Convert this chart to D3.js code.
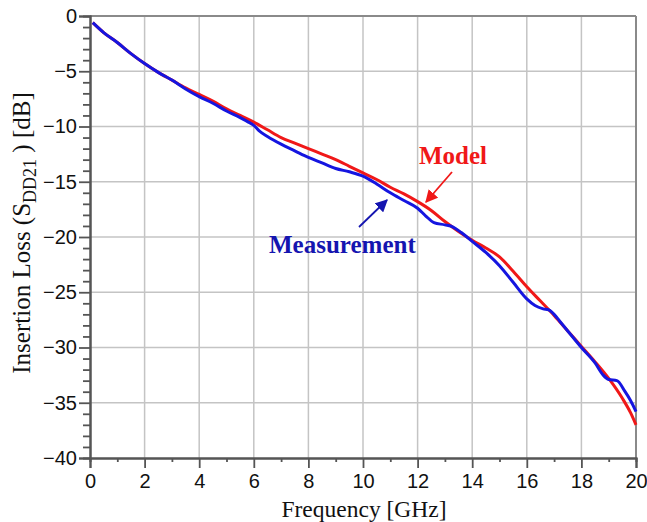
<!DOCTYPE html>
<html><head><meta charset="utf-8">
<script src="https://cdn.jsdelivr.net/npm/d3@7"></script>
<style>body{margin:0;background:#fff}</style>
</head><body>
<svg id="c" width="647" height="522"></svg>
<script>
const xTicks = [0,2,4,6,8,10,12,14,16,18,20];
const yTicks = [0,-5,-10,-15,-20,-25,-30,-35,-40];
const modelFreq = [0.1,0.5,1,1.5,2,2.5,3,3.5,4,4.5,5,5.5,6,6.5,7,7.5,8,8.5,9,9.5,10,10.5,11,11.5,12,12.5,13,13.5,14,14.5,15,15.5,16,16.5,17,17.5,18,18.5,19,19.5,19.8,20];
const modelDb = [-0.6,-1.5,-2.4,-3.4,-4.3,-5.1,-5.8,-6.5,-7.1,-7.7,-8.4,-9.0,-9.6,-10.3,-11.0,-11.5,-12.0,-12.5,-13.0,-13.6,-14.2,-14.8,-15.5,-16.1,-16.8,-17.6,-18.6,-19.5,-20.3,-21.0,-21.8,-23.1,-24.5,-25.8,-27.1,-28.5,-29.9,-31.3,-32.8,-34.6,-35.9,-37.0];
const measFreq = [0.1,0.5,1,1.5,2,2.5,3,3.5,4,4.5,5,5.5,5.8,6,6.2,6.5,7,7.5,8,8.5,9,9.5,10,10.5,11,11.5,12,12.3,12.6,13,13.3,13.6,14,14.5,15,15.5,16,16.3,16.6,16.8,17,17.2,17.5,18,18.5,18.8,19,19.3,19.6,19.8,20];
const measDb = [-0.6,-1.5,-2.4,-3.4,-4.3,-5.1,-5.8,-6.6,-7.3,-7.9,-8.6,-9.2,-9.6,-9.9,-10.4,-10.9,-11.6,-12.2,-12.8,-13.3,-13.8,-14.1,-14.5,-15.2,-16.0,-16.7,-17.4,-18.1,-18.7,-18.9,-19.1,-19.6,-20.4,-21.4,-22.6,-24.1,-25.6,-26.2,-26.5,-26.6,-27.0,-27.6,-28.5,-30.0,-31.4,-32.5,-32.9,-33.0,-34.0,-34.8,-35.8];

const svg = d3.select("#c");
const L=90,R=636,T=16,B=458;
const x = d3.scaleLinear().domain([0,20]).range([L,R]);
const y = d3.scaleLinear().domain([-40,0]).range([B,T]);

// grid
svg.append("g").selectAll("line").data(xTicks.slice(1,-1)).join("line")
  .attr("x1",d=>x(d)).attr("x2",d=>x(d)).attr("y1",T).attr("y2",B)
  .attr("stroke","#c4c4c4").attr("stroke-width",1.5);
svg.append("g").selectAll("line").data(yTicks.slice(1,-1)).join("line")
  .attr("y1",d=>y(d)).attr("y2",d=>y(d)).attr("x1",L).attr("x2",R)
  .attr("stroke","#c4c4c4").attr("stroke-width",1.5);
// frame top/right
svg.append("line").attr("x1",L).attr("x2",R).attr("y1",T).attr("y2",T).attr("stroke","#8a8a8a").attr("stroke-width",2);
svg.append("line").attr("x1",R).attr("x2",R).attr("y1",T).attr("y2",B).attr("stroke","#8a8a8a").attr("stroke-width",2);

// axes
const xAxis = d3.axisBottom(x).tickValues(xTicks).tickSize(10).tickPadding(6).tickFormat(d3.format("d"));
const xMinor = d3.axisBottom(x).tickValues(d3.range(1,20,2)).tickSize(4).tickFormat("");
const yAxis = d3.axisLeft(y).tickValues(yTicks).tickSize(11).tickPadding(2).tickFormat(d3.format("d"));
const yMinor = d3.axisLeft(y).tickValues(d3.range(-39,0,1).filter(v=>v%5!==0)).tickSize(7).tickFormat("");
function style(g){
  g.selectAll("path,line").attr("stroke","#555").attr("stroke-width",1.8);
  g.selectAll("text").attr("fill","#111").style("font-family","'Liberation Sans',Arial,sans-serif").style("font-size","20px");
}
svg.append("g").attr("transform",`translate(0,${B})`).call(xMinor).call(style);
svg.append("g").attr("transform",`translate(0,${B})`).call(xAxis).call(style);
svg.append("g").attr("transform",`translate(${L},0)`).call(yMinor).call(style);
svg.append("g").attr("transform",`translate(${L},0)`).call(yAxis).call(style);
svg.selectAll(".domain").attr("stroke","#555").attr("stroke-width",2);

// lines
const line = d3.line().x(d=>x(d[0])).y(d=>y(d[1])).curve(d3.curveMonotoneX);
svg.append("path").datum(modelFreq.map((f,i)=>[f,modelDb[i]]))
  .attr("d",line).attr("fill","none").attr("stroke","#f01818").attr("stroke-width",3);
svg.append("path").datum(measFreq.map((f,i)=>[f,measDb[i]]))
  .attr("d",line).attr("fill","none").attr("stroke","#1515e0").attr("stroke-width",3);

// titles
const serif = "'Liberation Serif','Times New Roman',serif";
svg.append("text").attr("x",(L+R)/2+1).attr("y",517).attr("text-anchor","middle")
  .style("font-family",serif).style("font-size","23.5px").attr("fill","#111").text("Frequency [GHz]");
const yt = svg.append("text").attr("transform","translate(30,233) rotate(-90)").attr("text-anchor","middle")
  .style("font-family",serif).style("font-size","25px").attr("fill","#111");
yt.append("tspan").text("Insertion Loss (S");
yt.append("tspan").attr("dy",6).style("font-size","18px").text("DD21");
yt.append("tspan").attr("dy",-6).text(" ) [dB]");

// annotations
svg.append("defs").html(`
<marker id="ar" viewBox="0 0 10 10" refX="9" refY="5" markerWidth="7" markerHeight="7" orient="auto-start-reverse"><path d="M0,0 L10,5 L0,10 z" fill="#f01818"/></marker>
<marker id="ab" viewBox="0 0 10 10" refX="9" refY="5" markerWidth="7" markerHeight="7" orient="auto-start-reverse"><path d="M0,0 L10,5 L0,10 z" fill="#1515b0"/></marker>`);
svg.append("line").attr("x1",452).attr("y1",172).attr("x2",426).attr("y2",202).attr("stroke","#f01818").attr("stroke-width",1.8).attr("marker-end","url(#ar)");
svg.append("line").attr("x1",359).attr("y1",227).attr("x2",387).attr("y2",200).attr("stroke","#1515b0").attr("stroke-width",1.8).attr("marker-end","url(#ab)");
svg.append("text").attr("x",419).attr("y",164).style("font-family",serif).style("font-size","25px").style("font-weight","bold").attr("fill","#f01818").text("Model");
svg.append("text").attr("x",269).attr("y",253).style("font-family",serif).style("font-size","25px").style("font-weight","bold").attr("fill","#1515b0").text("Measurement");
</script>
</body></html>
